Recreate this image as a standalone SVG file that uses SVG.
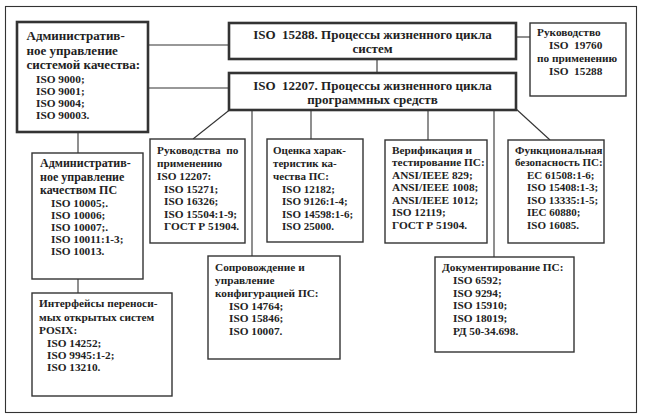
<svg xmlns="http://www.w3.org/2000/svg" width="645" height="417" viewBox="0 0 645 417">
<style>
text{font-family:"Liberation Serif","Times New Roman",serif;font-weight:bold;fill:#222;font-size:11.3px}
.t{font-size:13px}
.h{font-size:13px}
.m{font-size:12px}
.s{font-size:11px}
.box{fill:#fff;stroke:#333;stroke-width:1.4}
.thick{fill:#fff;stroke:#333;stroke-width:2.6}
.ln{fill:none;stroke:#333;stroke-width:1.1}
</style>
<rect x="0" y="0" width="645" height="417" fill="#fff"/>
<rect x="5.5" y="6.5" width="631" height="406" fill="none" stroke="#333" stroke-width="1.1"/>
<g id="connectors" class="ln">
<line x1="148" y1="45" x2="229" y2="45"/>
<line x1="148" y1="88" x2="229" y2="88"/>
<line x1="377" y1="59" x2="377" y2="73"/>
<line x1="516" y1="37" x2="530" y2="37"/>
<line x1="232" y1="108" x2="193" y2="139"/>
<line x1="252" y1="110" x2="252" y2="256"/>
<line x1="311" y1="110" x2="311" y2="139"/>
<line x1="428" y1="110" x2="428" y2="140"/>
<line x1="494" y1="110" x2="494" y2="257"/>
<line x1="515" y1="108" x2="550" y2="140"/>
<line x1="78" y1="132" x2="78" y2="153"/>
<line x1="78" y1="279" x2="78" y2="293"/>
</g>
<g id="n-admin-qs">
<rect class="thick" x="17" y="22" width="131" height="110"/>
<text class="h" x="26.5" y="40">Административ-</text>
<text class="h" x="26.5" y="54.5">ное управление</text>
<text class="h" x="26.5" y="69">системой качества:</text>
<text x="36" y="82.5">ISO 9000;</text>
<text x="36" y="94.5">ISO 9001;</text>
<text x="36" y="106.5">ISO 9004;</text>
<text x="36" y="118.5">ISO 90003.</text>
</g>
<g id="n-15288">
<rect class="thick" x="229" y="23" width="287" height="36"/>
<text class="t" x="372.5" y="39" text-anchor="middle" xml:space="preserve">ISO  15288. Процессы жизненного цикла</text>
<text class="t" x="372.5" y="53" text-anchor="middle">систем</text>
</g>
<g id="n-12207">
<rect class="thick" x="229" y="73" width="287" height="37"/>
<text class="t" x="372.5" y="90" text-anchor="middle" xml:space="preserve">ISO  12207. Процессы жизненного цикла</text>
<text class="t" x="372.5" y="104" text-anchor="middle">программных средств</text>
</g>
<g id="n-19760">
<rect class="box" x="530" y="23" width="96" height="73"/>
<text x="537" y="36">Руководство</text>
<text x="549" y="49" xml:space="preserve">ISO  19760</text>
<text x="537" y="62">по применению</text>
<text x="549" y="75" xml:space="preserve">ISO  15288</text>
</g>
<g id="n-admin-ps">
<rect class="box" x="32" y="153" width="111" height="126"/>
<text class="m" x="40" y="167">Административ-</text>
<text class="m" x="40" y="181">ное управление</text>
<text class="m" x="40" y="194">качеством ПС</text>
<text x="51" y="207">ISO 10005;.</text>
<text x="51" y="219">ISO 10006;</text>
<text x="51" y="231">ISO 10007;.</text>
<text x="51" y="243">ISO 10011:1-3;</text>
<text x="51" y="255">ISO 10013.</text>
</g>
<g id="n-posix">
<rect class="box" x="32" y="293" width="140" height="103"/>
<text x="39" y="307">Интерфейсы переноси-</text>
<text x="39" y="321">мых открытых систем</text>
<text x="39" y="334">POSIX:</text>
<text x="47" y="347">ISO 14252;</text>
<text x="47" y="359">ISO 9945:1-2;</text>
<text x="47" y="371">ISO 13210.</text>
</g>
<g id="n-guides">
<rect class="box" x="150" y="139" width="95" height="104"/>
<text x="157" y="154" xml:space="preserve">Руководства  по</text>
<text x="157" y="167">применению</text>
<text x="157" y="180">ISO 12207:</text>
<text x="164" y="193">ISO 15271;</text>
<text x="164" y="205">ISO 16326;</text>
<text x="164" y="217.5">ISO 15504:1-9;</text>
<text x="164" y="230">ГОСТ Р 51904.</text>
</g>
<g id="n-quality">
<rect class="box" x="267" y="139" width="96" height="103"/>
<text class="s" x="273" y="154">Оценка харак-</text>
<text class="s" x="273" y="167">теристик ка-</text>
<text class="s" x="273" y="180">чества ПС:</text>
<text class="s" x="282" y="193">ISO 12182;</text>
<text class="s" x="282" y="205">ISO 9126:1-4;</text>
<text class="s" x="282" y="217.5">ISO 14598:1-6;</text>
<text class="s" x="282" y="230">ISO 25000.</text>
</g>
<g id="n-verif">
<rect class="box" x="385" y="140" width="102" height="103"/>
<text x="392" y="153.5">Верификация и</text>
<text x="392" y="166">тестирование ПС:</text>
<text x="392" y="179">ANSI/IEEE 829;</text>
<text x="392" y="191">ANSI/IEEE 1008;</text>
<text x="392" y="203.5">ANSI/IEEE 1012;</text>
<text x="392" y="216">ISO 12119;</text>
<text x="392" y="228.5">ГОСТ Р 51904.</text>
</g>
<g id="n-safety">
<rect class="box" x="508" y="140" width="96" height="103"/>
<text class="s" x="515" y="153.5">Функциональная</text>
<text class="s" x="515" y="166">безопасность ПС:</text>
<text class="s" x="527" y="179">ЕС 61508:1-6;</text>
<text class="s" x="527" y="191">ISO 15408:1-3;</text>
<text class="s" x="527" y="203.5">ISO 13335:1-5;</text>
<text class="s" x="527" y="216">IEC 60880;</text>
<text class="s" x="527" y="228.5">ISO 16085.</text>
</g>
<g id="n-maint">
<rect class="box" x="208" y="256" width="132" height="103"/>
<text x="215" y="271">Сопровождение и</text>
<text x="215" y="284">управление</text>
<text x="215" y="297">конфигурацией ПС:</text>
<text x="229" y="310">ISO 14764;</text>
<text x="229" y="322">ISO 15846;</text>
<text x="229" y="334.5">ISO 10007.</text>
</g>
<g id="n-doc">
<rect class="box" x="435" y="257" width="139" height="95"/>
<text x="442" y="271">Документирование ПС:</text>
<text x="453" y="284">ISO 6592;</text>
<text x="453" y="297">ISO 9294;</text>
<text x="453" y="309">ISO 15910;</text>
<text x="453" y="322">ISO 18019;</text>
<text x="453" y="335">РД 50-34.698.</text>
</g>
</svg>
